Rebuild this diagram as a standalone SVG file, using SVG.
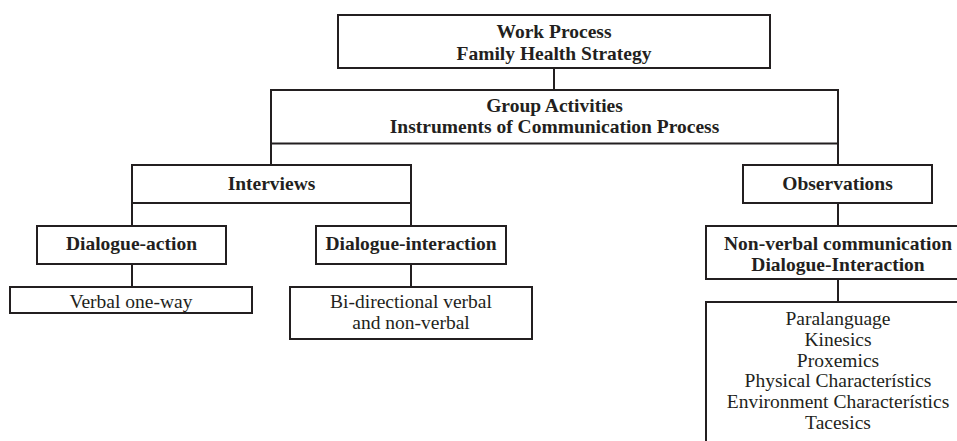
<svg xmlns="http://www.w3.org/2000/svg" width="957" height="441" viewBox="0 0 957 441">
  <style>
    .box { fill: #ffffff; stroke: #231f20; stroke-width: 2; }
    .link { fill: none; stroke: #231f20; stroke-width: 2; }
    text { font-family: "Liberation Serif", "Times New Roman", serif; font-size: 19.5px; fill: #231f20; text-anchor: middle; }
    .b { font-weight: bold; }
  </style>
  <rect width="957" height="441" fill="#ffffff"/>

  <!-- tree connectors -->
  <g id="connectors">
    <line class="link" x1="554" y1="68" x2="554" y2="90"/>
    <line class="link" x1="271" y1="143" x2="271" y2="165"/>
    <line class="link" x1="838" y1="143" x2="838" y2="165"/>
    <line class="link" x1="132" y1="203" x2="132" y2="226"/>
    <line class="link" x1="411" y1="203" x2="411" y2="226"/>
    <line class="link" x1="132" y1="264" x2="132" y2="287"/>
    <line class="link" x1="411" y1="264" x2="411" y2="287"/>
    <line class="link" x1="838" y1="203" x2="838" y2="226"/>
    <line class="link" x1="838" y1="279" x2="838" y2="302"/>
  </g>

  <g id="work-process">
    <rect class="box" x="338" y="15" width="432" height="53"/>
    <text class="b" x="554" y="37.5">Work Process</text>
    <text class="b" x="554" y="59.5">Family Health Strategy</text>
  </g>

  <g id="group-activities">
    <rect class="box" x="271" y="90" width="567" height="53.5"/>
    <text class="b" x="554.5" y="111.5">Group Activities</text>
    <text class="b" x="554.5" y="132.5">Instruments of Communication Process</text>
  </g>

  <g id="interviews">
    <rect class="box" x="132" y="165" width="279" height="38"/>
    <text class="b" x="271.5" y="190">Interviews</text>
  </g>

  <g id="observations">
    <rect class="box" x="743" y="165" width="189" height="38"/>
    <text class="b" x="837.5" y="190">Observations</text>
  </g>

  <g id="dialogue-action">
    <rect class="box" x="37" y="226" width="189" height="38"/>
    <text class="b" x="131.5" y="250">Dialogue-action</text>
  </g>

  <g id="dialogue-interaction">
    <rect class="box" x="316" y="226" width="190" height="38"/>
    <text class="b" x="411" y="250">Dialogue-interaction</text>
  </g>

  <g id="verbal-one-way">
    <rect class="box" x="10" y="287" width="242" height="26"/>
    <text x="131" y="308">Verbal one-way</text>
  </g>

  <g id="bi-directional">
    <rect class="box" x="290" y="287" width="242" height="52"/>
    <text x="411" y="307.5">Bi-directional verbal</text>
    <text x="411" y="328.5">and non-verbal</text>
  </g>

  <g id="non-verbal">
    <rect class="box" x="706" y="226" width="264" height="53"/>
    <text class="b" x="838" y="250">Non-verbal communication</text>
    <text class="b" x="838" y="270.5">Dialogue-Interaction</text>
  </g>

  <g id="non-verbal-elements">
    <rect class="box" x="706" y="302" width="264" height="160"/>
    <text x="838" y="325">Paralanguage</text>
    <text x="838" y="345.8">Kinesics</text>
    <text x="838" y="366.6">Proxemics</text>
    <text x="838" y="387.4">Physical Characterístics</text>
    <text x="838" y="408.2">Environment Characterístics</text>
    <text x="838" y="429">Tacesics</text>
  </g>
</svg>
